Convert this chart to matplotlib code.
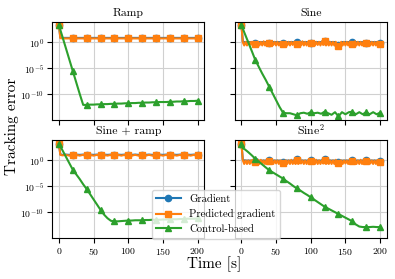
import numpy as np
import matplotlib
matplotlib.use("Agg")
import matplotlib.pyplot as plt
from matplotlib.ticker import FixedLocator, NullLocator

plt.rcParams['font.family'] = 'serif'
plt.rcParams['font.serif'] = ['cmr10']
plt.rcParams['mathtext.fontset'] = 'cm'
plt.rcParams['axes.formatter.use_mathtext'] = True
plt.rcParams['axes.unicode_minus'] = False

# time grids [s]
t5 = [0, 2] + list(range(5, 201, 5))
t2 = list(range(0, 201, 2))

titles = ["Ramp", "Sine", "Sine + ramp", "Sine$^2$"]
labels = ["Gradient", "Predicted gradient", "Control-based"]

# log10 of the tracking error
ramp_grad = [3.3, 0.95] + [0.85] * 40
ramp_pred = [3.3, 0.8] + [0.75] * 40
ramp_ctrl = [3.3, 2.4, 1.1, -1.1, -3.3, -5.5, -7.7, -9.9, -12.0,
             -12.0, -11.95, -11.95, -11.9, -11.9, -11.85, -11.85, -11.8,
             -11.8, -11.75, -11.75, -11.7, -11.7, -11.65, -11.65, -11.6,
             -11.6, -11.55, -11.55, -11.5, -11.5, -11.45, -11.45, -11.45,
             -11.4, -11.4, -11.35, -11.35, -11.3, -11.3, -11.25, -11.25, -11.2]

sine_grad = [3.3, 0.1, 0.05, 0.05, 0.05,
             -0.1, 0.05, 0.05, 0.05,
             -0.2, 0.05, 0.05, 0.05,
             -0.2, 0.05, 0.05, 0.05,
             0.0, 0.05, 0.05, 0.05,
             -0.1, 0.05, 0.05, 0.05,
             0.3, 0.05, 0.05, 0.05,
             -0.5, 0.05, 0.05, 0.05,
             0.0, 0.05, 0.05, 0.05,
             -0.1, 0.05, 0.05, 0.05,
             -0.2]
sine_pred = [3.3, 0.0, -0.6, 0.1, -0.6, 0.1, -0.5, 0.1, -0.6, 0.0,
             -0.3, -0.6, 0.1, -0.6, 0.1, -0.6, 0.2, -0.6, 0.1, -0.6,
             -0.2, -0.6, 0.1, -0.5, 0.1, -0.6, 0.1, -0.6, 0.0, -0.6,
             -0.3, -0.6, 0.1, -0.6, 0.1, -0.6, 0.1, -0.5, 0.1, -0.6,
             -0.3, -0.6, 0.1, -0.6, 0.2, -0.6, 0.1, -0.6, 0.1, -0.6,
             -0.2, -0.6, 0.1, -0.6, 0.1, -0.5, 0.1, -0.6, 0.2, -0.5,
             0.2, -0.6, 0.1, -0.6, 0.1, -0.6, 0.1, -0.6, 0.1, -0.7,
             -0.7, -0.6, 0.1, -0.6, 0.1, -0.6, 0.1, -0.6, 0.1, -0.6,
             -0.3, -0.6, 0.2, -0.6, 0.1, -0.6, 0.1, -0.6, 0.1, -0.6,
             -0.2, -0.6, 0.1, -0.6, 0.1, -0.6, 0.1, -0.6, 0.1, -0.6,
             -0.3]
sine_ctrl = [3.3, 2.6, 1.6, -0.05, -1.7,
             -3.4, -4.7, -6.0, -7.2,
             -8.5, -9.8, -11.1, -12.4,
             -13.5, -13.6, -13.6, -13.8,
             -14.0, -13.6, -13.5, -13.7,
             -13.4, -13.6, -13.5, -13.7,
             -13.3, -13.6, -13.9, -13.4,
             -14.2, -13.4, -13.8, -13.4,
             -13.3, -13.8, -13.4, -13.8,
             -13.4, -13.8, -13.4, -13.8,
             -13.5]

sr_grad = [3.2, 1.15, 1.05, 1.1, 1.05,
           1.1, 1.1, 1.05, 1.1,
           1.05, 1.1, 1.05, 1.1,
           1.05, 1.1, 1.05, 1.1,
           1.1, 1.1, 1.05, 1.1,
           1.1, 1.05, 1.1, 1.05,
           1.1, 1.05, 1.1, 1.05,
           1.1, 1.1, 1.05, 1.1,
           1.05, 1.1, 1.05, 1.1,
           1.05, 1.1, 1.05, 1.1,
           1.05]
sr_pred = [3.2, 1.05, 0.95, 1.05, 0.9,
           1.0, 1.05, 0.9, 1.05,
           0.95, 1.05, 0.9, 1.05,
           0.95, 1.05, 0.9, 1.05,
           1.0, 1.05, 0.9, 1.05,
           1.05, 0.9, 1.05, 0.9,
           1.05, 0.9, 1.05, 0.9,
           1.0, 1.05, 0.9, 1.05,
           0.95, 1.05, 0.9, 1.05,
           0.95, 1.05, 0.9, 1.05,
           0.95]
sr_ctrl = [3.2, 2.7, 1.95, 0.7, -0.55,
           -1.8, -2.7, -3.6, -4.6,
           -5.5, -6.5, -7.5, -8.5,
           -9.5, -10.4, -11.1, -11.6,
           -11.7, -11.7, -11.65, -11.6,
           -11.55, -11.55, -11.5, -11.5,
           -11.5, -11.45, -11.45, -11.4,
           -11.4, -11.4, -11.35, -11.35,
           -11.3, -11.3, -11.3, -11.25,
           -11.25, -11.2, -11.2, -11.2,
           -11.15]

sq_grad = [3.2, 0.1, -0.05, -0.05, -0.05,
           -0.05, -0.05, -0.05, -0.05,
           0.1, -0.05, -0.05, -0.05,
           -0.4, -0.05, -0.05, -0.05,
           0.2, -0.05, -0.05, -0.05,
           0.0, -0.05, -0.05, -0.05,
           0.2, -0.05, -0.05, -0.05,
           -0.3, -0.05, -0.05, -0.05,
           0.1, -0.05, -0.05, -0.05,
           0.0, -0.05, -0.05, -0.05,
           -0.2]
sq_pred = [3.2, 0.0, -0.7, 0.0, -0.7, 0.0, -0.7, 0.0, -0.6, 0.0,
           -0.3, -0.7, 0.0, -0.7, 0.1, -0.7, 0.0, -0.7, 0.0, -0.7,
           -0.1, -0.7, 0.0, -0.7, 0.0, -0.6, 0.0, -0.7, 0.0, -0.7,
           -0.6, -0.7, 0.0, -0.7, 0.0, -0.7, 0.1, -0.7, 0.0, -0.7,
           0.0, -0.7, 0.0, -0.6, 0.0, -0.7, 0.0, -0.7, 0.0, -0.7,
           -0.1, -0.7, 0.0, -0.7, 0.1, -0.7, 0.0, -0.7, 0.0, -0.6,
           0.0, -0.7, 0.0, -0.7, 0.0, -0.7, 0.0, -0.7, 0.1, -0.7,
           -0.5, -0.7, 0.0, -0.7, 0.0, -0.6, 0.0, -0.7, 0.0, -0.7,
           -0.1, -0.7, 0.0, -0.7, 0.0, -0.7, 0.1, -0.7, 0.0, -0.7,
           -0.1, -0.7, 0.0, -0.6, 0.0, -0.7, 0.0, -0.7, 0.0, -0.7,
           -0.3]
sq_ctrl = [3.2, 2.3, 2.1, 1.55, 0.95,
           0.3, -0.25, -0.8, -1.35,
           -1.9, -2.3, -2.7, -3.1,
           -3.5, -4.0, -4.45, -4.95,
           -5.4, -5.8, -6.25, -6.65,
           -7.1, -7.55, -8.0, -8.45,
           -8.9, -9.25, -9.6, -9.95,
           -10.3, -10.65, -11.0, -11.35,
           -11.7, -12.3, -12.7, -12.8,
           -12.8, -12.8, -12.75, -12.8,
           -12.8]

panels = [
    [(t5, ramp_grad), (t5, ramp_pred), (t5, ramp_ctrl)],
    [(t5, sine_grad), (t2, sine_pred), (t5, sine_ctrl)],
    [(t5, sr_grad), (t5, sr_pred), (t5, sr_ctrl)],
    [(t5, sq_grad), (t2, sq_pred), (t5, sq_ctrl)],
]

colors = ['tab:blue', 'tab:orange', 'tab:green']
markers = ['o', 's', '^']

fig, axes = plt.subplots(2, 2, sharex=True, sharey=True, figsize=(3.95, 2.79), dpi=100)
fig.subplots_adjust(left=52/395, right=387/395, top=1-22/279, bottom=1-238/279,
                    wspace=0.197, hspace=0.204)

for ax, title, series in zip(axes.flat, titles, panels):
    for (t, v), c, m, lab in zip(series, colors, markers, labels):
        every = [i for i, tt in enumerate(t) if tt % 20 == 0]
        ax.semilogy(t, 10.0 ** np.array(v), color=c, marker=m, markersize=4.5,
                    lw=1.5, markevery=every, label=lab)
    ax.set_title(title, fontsize=8.5, pad=4)
    ax.grid(True, color='#d0d0d0', lw=0.8)
    ax.set_axisbelow(True)
    ax.tick_params(labelsize=7, length=3.5, width=0.8, pad=2)
    for sp in ax.spines.values():
        sp.set_linewidth(0.8)

ax0 = axes[0, 0]
ax0.set_ylim(10 ** -14.9, 10 ** 3.9)
ax0.yaxis.set_major_locator(FixedLocator([1e0, 1e-5, 1e-10]))
ax0.yaxis.set_minor_locator(NullLocator())
ax0.set_xticks([0, 50, 100, 150, 200])

fig.text(214.5/395, 1-264/279, 'Time [s]', ha='center', va='center', fontsize=11)
fig.text(12/395, 1-126/279, 'Tracking error', ha='center', va='center',
         rotation=90, fontsize=11)

handles, labs = ax0.get_legend_handles_labels()
fig.legend(handles, labs, loc='lower left', bbox_to_anchor=(151.7/395, 1-238.5/279),
           borderaxespad=0, fontsize=7.7, handlelength=2.3)

fig.savefig('out.png', dpi=100)
